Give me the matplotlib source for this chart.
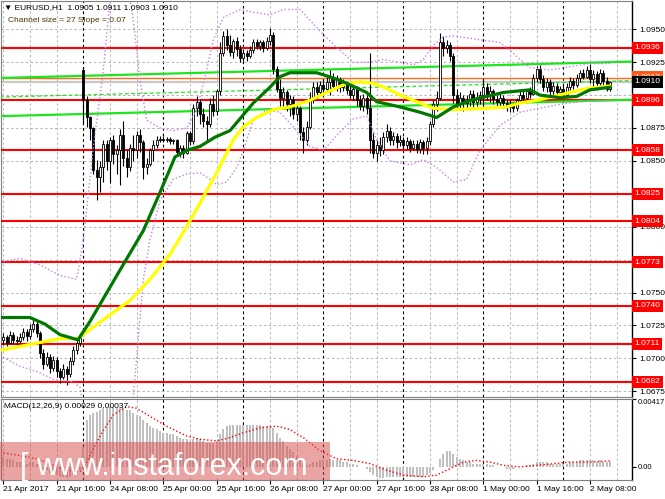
import numpy as np
import matplotlib.pyplot as plt
from matplotlib.patches import Rectangle
from matplotlib.transforms import blended_transform_factory

plt.rcParams['font.family'] = ['Liberation Sans', 'DejaVu Sans']

# EURUSD H1 candles, bar 0 = 21 Apr 2017 00:00
opens = [
    1.0714, 1.0716, 1.0712, 1.0718, 1.0714, 1.0713, 1.0716, 1.0720, 1.0717, 1.0722, 1.0726, 1.0719,
    1.0704, 1.0696, 1.0701, 1.0693, 1.0699, 1.0690, 1.0686, 1.0692, 1.0688, 1.0698, 1.0706, 1.0712,
    1.0919, 1.0896, 1.0883, 1.0875, 1.0843, 1.0838, 1.0845, 1.0863, 1.0850, 1.0866, 1.0855, 1.0858,
    1.0870, 1.0852, 1.0845, 1.0860, 1.0858, 1.0870, 1.0864, 1.0845, 1.0848, 1.0858, 1.0862, 1.0866,
    1.0867, 1.0866, 1.0867, 1.0865, 1.0866, 1.0857, 1.0860, 1.0856, 1.0871, 1.0865, 1.0890, 1.0895,
    1.0886, 1.0880, 1.0878, 1.0893, 1.0888, 1.0903, 1.0932, 1.0945, 1.0938, 1.0933, 1.0941, 1.0935,
    1.0928, 1.0932, 1.0930, 1.0934, 1.0940, 1.0937, 1.0940, 1.0936, 1.0941, 1.0946, 1.0920, 1.0905,
    1.0898, 1.0902, 1.0893, 1.0897, 1.0886, 1.0890, 1.0872, 1.0866, 1.0876, 1.0898, 1.0906, 1.0902,
    1.0908, 1.0905, 1.0910, 1.0914, 1.0907, 1.0912, 1.0906, 1.0909, 1.0904, 1.0900, 1.0905, 1.0896,
    1.0892, 1.0898, 1.0890, 1.0866, 1.0856, 1.0862, 1.0858, 1.0868, 1.0873, 1.0866, 1.0869, 1.0864,
    1.0866, 1.0862, 1.0865, 1.0860, 1.0863, 1.0859, 1.0864, 1.0860, 1.0865, 1.0878, 1.0893, 1.0898,
    1.0940, 1.0936, 1.0938, 1.0930, 1.0900, 1.0893, 1.0898, 1.0894, 1.0897, 1.0901, 1.0895, 1.0898,
    1.0900, 1.0906, 1.0900, 1.0903, 1.0897, 1.0895, 1.0898, 1.0894, 1.0891, 1.0893, 1.0890, 1.0896,
    1.0900, 1.0898, 1.0903, 1.0901, 1.0913, 1.0920, 1.0912, 1.0906, 1.0910, 1.0903, 1.0907, 1.0902,
    1.0905, 1.0900, 1.0906, 1.0911, 1.0908, 1.0913, 1.0917, 1.0914, 1.0919, 1.0912, 1.0916, 1.0909,
    1.0917, 1.0911, 1.0905,
]
highs = [
    1.0719, 1.0718, 1.0721, 1.0720, 1.0717, 1.0719, 1.0723, 1.0722, 1.0726, 1.0731, 1.0729, 1.0721,
    1.0707, 1.0705, 1.0703, 1.0702, 1.0701, 1.0693, 1.0696, 1.0694, 1.0701, 1.0709, 1.0715, 1.0719,
    1.0921, 1.0899, 1.0884, 1.0876, 1.0851, 1.0850, 1.0866, 1.0866, 1.0868, 1.0870, 1.0862, 1.0874,
    1.0880, 1.0858, 1.0863, 1.0870, 1.0873, 1.0874, 1.0866, 1.0852, 1.0860, 1.0866, 1.0869, 1.0869,
    1.0869, 1.0868, 1.0868, 1.0867, 1.0867, 1.0862, 1.0862, 1.0873, 1.0873, 1.0893, 1.0899, 1.0897,
    1.0890, 1.0884, 1.0898, 1.0900, 1.0905, 1.0940, 1.0949, 1.0950, 1.0946, 1.0943, 1.0944, 1.0938,
    1.0935, 1.0934, 1.0937, 1.0943, 1.0943, 1.0942, 1.0942, 1.0944, 1.0951, 1.0948, 1.0922, 1.0912,
    1.0906, 1.0904, 1.0900, 1.0899, 1.0895, 1.0892, 1.0876, 1.0880, 1.0902, 1.0910, 1.0910, 1.0911,
    1.0912, 1.0914, 1.0919, 1.0917, 1.0915, 1.0914, 1.0912, 1.0911, 1.0908, 1.0908, 1.0907, 1.0900,
    1.0901, 1.0900, 1.0932, 1.0872, 1.0866, 1.0868, 1.0872, 1.0878, 1.0876, 1.0872, 1.0871, 1.0870,
    1.0868, 1.0868, 1.0867, 1.0866, 1.0866, 1.0867, 1.0866, 1.0868, 1.0880, 1.0896, 1.0903, 1.0947,
    1.0945, 1.0942, 1.0940, 1.0932, 1.0905, 1.0902, 1.0900, 1.0900, 1.0904, 1.0904, 1.0902, 1.0903,
    1.0913, 1.0909, 1.0907, 1.0905, 1.0900, 1.0901, 1.0900, 1.0896, 1.0896, 1.0895, 1.0898, 1.0903,
    1.0903, 1.0905, 1.0906, 1.0916, 1.0922, 1.0923, 1.0915, 1.0913, 1.0912, 1.0910, 1.0909, 1.0907,
    1.0908, 1.0909, 1.0914, 1.0913, 1.0916, 1.0919, 1.0920, 1.0922, 1.0924, 1.0919, 1.0918, 1.0920,
    1.0919, 1.0914, 1.0911,
]
lows = [
    1.0710, 1.0709, 1.0711, 1.0711, 1.0710, 1.0712, 1.0714, 1.0713, 1.0715, 1.0720, 1.0716, 1.0700,
    1.0692, 1.0694, 1.0689, 1.0690, 1.0686, 1.0681, 1.0684, 1.0680, 1.0686, 1.0695, 1.0703, 1.0709,
    1.0879, 1.0876, 1.0866, 1.0840, 1.0820, 1.0826, 1.0834, 1.0843, 1.0833, 1.0848, 1.0840, 1.0832,
    1.0846, 1.0838, 1.0842, 1.0850, 1.0852, 1.0857, 1.0836, 1.0840, 1.0846, 1.0850, 1.0860, 1.0864,
    1.0864, 1.0864, 1.0863, 1.0863, 1.0854, 1.0853, 1.0852, 1.0855, 1.0862, 1.0863, 1.0884, 1.0878,
    1.0876, 1.0866, 1.0876, 1.0884, 1.0885, 1.0900, 1.0930, 1.0934, 1.0930, 1.0928, 1.0930, 1.0925,
    1.0926, 1.0926, 1.0928, 1.0932, 1.0935, 1.0934, 1.0933, 1.0934, 1.0938, 1.0916, 1.0902, 1.0892,
    1.0890, 1.0888, 1.0884, 1.0882, 1.0880, 1.0866, 1.0856, 1.0862, 1.0874, 1.0894, 1.0898, 1.0899,
    1.0900, 1.0902, 1.0900, 1.0904, 1.0903, 1.0902, 1.0903, 1.0901, 1.0897, 1.0896, 1.0892, 1.0889,
    1.0888, 1.0886, 1.0856, 1.0852, 1.0850, 1.0854, 1.0855, 1.0864, 1.0862, 1.0862, 1.0860, 1.0861,
    1.0859, 1.0859, 1.0857, 1.0858, 1.0856, 1.0856, 1.0855, 1.0855, 1.0862, 1.0876, 1.0888, 1.0896,
    1.0930, 1.0932, 1.0926, 1.0894, 1.0889, 1.0889, 1.0888, 1.0890, 1.0892, 1.0891, 1.0892, 1.0893,
    1.0891, 1.0896, 1.0895, 1.0893, 1.0891, 1.0892, 1.0890, 1.0888, 1.0887, 1.0887, 1.0888, 1.0894,
    1.0895, 1.0896, 1.0898, 1.0900, 1.0910, 1.0909, 1.0903, 1.0902, 1.0900, 1.0899, 1.0900, 1.0899,
    1.0898, 1.0899, 1.0904, 1.0905, 1.0906, 1.0910, 1.0912, 1.0913, 1.0909, 1.0905, 1.0904, 1.0907,
    1.0908, 1.0903, 1.0903,
]
closes = [
    1.0716, 1.0712, 1.0718, 1.0714, 1.0713, 1.0716, 1.0720, 1.0717, 1.0722, 1.0726, 1.0719, 1.0704,
    1.0696, 1.0701, 1.0693, 1.0699, 1.0690, 1.0686, 1.0692, 1.0688, 1.0698, 1.0706, 1.0712, 1.0716,
    1.0896, 1.0883, 1.0875, 1.0843, 1.0838, 1.0845, 1.0863, 1.0850, 1.0866, 1.0855, 1.0858, 1.0870,
    1.0852, 1.0845, 1.0860, 1.0858, 1.0870, 1.0864, 1.0845, 1.0848, 1.0858, 1.0862, 1.0866, 1.0867,
    1.0866, 1.0867, 1.0865, 1.0866, 1.0857, 1.0860, 1.0856, 1.0871, 1.0865, 1.0890, 1.0895, 1.0886,
    1.0880, 1.0878, 1.0893, 1.0888, 1.0903, 1.0932, 1.0945, 1.0938, 1.0933, 1.0941, 1.0935, 1.0928,
    1.0932, 1.0930, 1.0934, 1.0940, 1.0937, 1.0940, 1.0936, 1.0941, 1.0946, 1.0920, 1.0905, 1.0898,
    1.0902, 1.0893, 1.0897, 1.0886, 1.0890, 1.0872, 1.0866, 1.0876, 1.0898, 1.0906, 1.0902, 1.0908,
    1.0905, 1.0910, 1.0914, 1.0907, 1.0912, 1.0906, 1.0909, 1.0904, 1.0900, 1.0905, 1.0896, 1.0892,
    1.0898, 1.0890, 1.0866, 1.0856, 1.0862, 1.0858, 1.0868, 1.0873, 1.0866, 1.0869, 1.0864, 1.0866,
    1.0862, 1.0865, 1.0860, 1.0863, 1.0859, 1.0864, 1.0860, 1.0865, 1.0878, 1.0893, 1.0898, 1.0940,
    1.0936, 1.0938, 1.0930, 1.0900, 1.0893, 1.0898, 1.0894, 1.0897, 1.0901, 1.0895, 1.0898, 1.0900,
    1.0906, 1.0900, 1.0903, 1.0897, 1.0895, 1.0898, 1.0894, 1.0891, 1.0893, 1.0890, 1.0896, 1.0900,
    1.0898, 1.0903, 1.0901, 1.0913, 1.0920, 1.0912, 1.0906, 1.0910, 1.0903, 1.0907, 1.0902, 1.0905,
    1.0900, 1.0906, 1.0911, 1.0908, 1.0913, 1.0917, 1.0914, 1.0919, 1.0912, 1.0916, 1.0909, 1.0917,
    1.0911, 1.0905, 1.0910,
]

# moving averages (bar, price)
ma_green_bars = [-1, 8, 12.5, 17, 22.4, 26, 29, 35, 42, 47, 51.5, 55, 59, 63.5, 68, 75, 80, 83, 86,
                 94, 99, 103, 109, 112, 119, 125, 130, 135, 140, 150, 158, 161, 167, 172, 176, 182]
ma_green = [1.0731, 1.0731, 1.0726, 1.0718, 1.0714, 1.0728, 1.0741, 1.0767, 1.0797, 1.0826, 1.0853,
            1.0858, 1.0861, 1.0868, 1.0873, 1.0894, 1.0906, 1.0914, 1.0917, 1.0917, 1.0913, 1.0909,
            1.0902, 1.0895, 1.0891, 1.0887, 1.0883, 1.0891, 1.0896, 1.0902, 1.0904, 1.0900, 1.0898,
            1.0899, 1.0904, 1.0906]
ma_yellow_bars = [-1, 5, 11, 17, 22.4, 26, 32, 38, 44, 50, 55, 59, 64, 69, 72, 76, 81, 86, 92, 97,
                  103, 107, 111, 115, 119, 124, 129, 135, 145, 151, 155, 160, 165, 170, 175, 182]
ma_yellow = [1.0706, 1.0709, 1.0712, 1.0715, 1.0715, 1.0722, 1.0733, 1.0744, 1.0760, 1.0779, 1.0800,
             1.0818, 1.0841, 1.0866, 1.0876, 1.0883, 1.0889, 1.0891, 1.0896, 1.0902, 1.0909, 1.0910,
             1.0909, 1.0905, 1.0900, 1.0895, 1.0890, 1.0889, 1.0890, 1.0891, 1.0894, 1.0896, 1.0899,
             1.0902, 1.0905, 1.0907]

# Bollinger bands
bb_up_bars = [-1, 5, 11, 17, 22, 24, 27, 30, 32, 34, 37, 39, 41, 43, 47, 51, 55, 58, 61, 63, 66, 71,
              75, 80, 84, 89, 92, 96, 101, 105, 110, 114, 119, 123, 126, 129, 132, 135, 143, 149,
              152, 155, 158, 164, 171, 176, 182]
bb_up = [1.0773, 1.0776, 1.0771, 1.0763, 1.0760, 1.0790, 1.0860, 1.0919, 1.0972, 1.1003, 1.0990,
         1.0957, 1.0912, 1.0881, 1.0875, 1.0873, 1.0875, 1.0889, 1.0919, 1.0942, 1.0959, 1.0965,
         1.0963, 1.0961, 1.0965, 1.0965, 1.0957, 1.0946, 1.0934, 1.0925, 1.0925, 1.0927, 1.0925,
         1.0923, 1.0927, 1.0938, 1.0944, 1.0945, 1.0942, 1.0940, 1.0934, 1.0927, 1.0921, 1.0919,
         1.0922, 1.0924, 1.0924]
bb_low_bars = [-1, 5, 10, 15, 21, 23, 24, 26, 30, 34, 37, 39, 40, 42, 44, 47, 51, 55, 59, 62, 64, 67,
               70, 72, 75, 79, 83, 88, 92, 96, 101, 105, 109, 112, 116, 122, 126, 130, 135, 139,
               143, 149, 155, 161, 167, 173, 182]
bb_low = [1.0702, 1.0694, 1.0690, 1.0684, 1.0682, 1.0678, 1.0660, 1.0623, 1.0600, 1.0610, 1.0640,
          1.0672, 1.0700, 1.0760, 1.0790, 1.0820, 1.0836, 1.0840, 1.0841, 1.0836, 1.0832, 1.0834,
          1.0845, 1.0858, 1.0881, 1.0889, 1.0887, 1.0873, 1.0861, 1.0858, 1.0872, 1.0882, 1.0884,
          1.0866, 1.0850, 1.0847, 1.0851, 1.0845, 1.0834, 1.0836, 1.0858, 1.0877, 1.0887, 1.0890,
          1.0893, 1.0895, 1.0896]

# equidistant channel (bar, price)
channel_bars = [-1, 189]
channel_upper = [1.0913, 1.09255]
channel_mid = [1.08985, 1.0911]
channel_lower = [1.0884, 1.08965]

levels = [1.0936, 1.0896, 1.0858, 1.0825, 1.0804, 1.0773, 1.0740, 1.0711, 1.0682]
level_orange = 1.0913
bid = 1.0910
price_ticks = [1.0675, 1.0700, 1.0725, 1.0750, 1.0775, 1.0800, 1.0825, 1.0850, 1.0875, 1.0900,
               1.0925, 1.0950]
# these tick labels sit under a level label in the reference, so only the tick shows
hidden_tick_labels = [1.0775, 1.0825, 1.0900]

time_ticks = [0, 16, 32, 48, 64, 80, 96, 112, 128, 144, 160, 176]
time_labels = ['21 Apr 2017', '21 Apr 16:00', '24 Apr 08:00', '25 Apr 00:00', '25 Apr 16:00',
               '26 Apr 08:00', '27 Apr 00:00', '27 Apr 16:00', '28 Apr 08:00', '1 May 00:00',
               '1 May 16:00', '2 May 08:00']

macd_main = [
    0.0006, 0.0005, 0.0005, 0.0004, 0.0003, 0.0003, 0.0003, 0.0002, 0.0003, 0.0003, 0.0002, 0.0000,
    -0.0002, -0.0002, -0.0004, -0.0004, -0.0005, -0.0006, -0.0006, -0.0007, -0.0006, -0.0005, -0.0003, -0.0002,
    0.0012, 0.0029, 0.0032, 0.0033, 0.0034, 0.0035, 0.0036, 0.0036, 0.0037, 0.0037, 0.0036, 0.0036,
    0.0036, 0.0035, 0.0035, 0.0033, 0.0032, 0.0031, 0.0029, 0.0027, 0.0025, 0.0024, 0.0023, 0.0022,
    0.0021, 0.0021, 0.0020, 0.0020, 0.0019, 0.0018, 0.0017, 0.0017, 0.0016, 0.0017, 0.0018, 0.0017,
    0.0016, 0.0015, 0.0015, 0.0015, 0.0016, 0.0020, 0.0023, 0.0025, 0.0026, 0.0026, 0.0026, 0.0026,
    0.0026, 0.0026, 0.0026, 0.0026, 0.0026, 0.0026, 0.0025, 0.0025, 0.0026, 0.0024, 0.0021, 0.0018,
    0.0016, 0.0013, 0.0011, 0.0009, 0.0007, 0.0004, 0.0002, 0.0001, 0.0002, 0.0003, 0.0003, 0.0004,
    0.0004, 0.0004, 0.0005, 0.0004, 0.0004, 0.0004, 0.0003, 0.0003, 0.0002, 0.0002, 0.0001, 0.0000,
    0.0000, -0.0001, -0.0003, -0.0005, -0.0006, -0.0007, -0.0007, -0.0006, -0.0006, -0.0006, -0.0006, -0.0006,
    -0.0006, -0.0006, -0.0006, -0.0006, -0.0006, -0.0006, -0.0006, -0.0005, -0.0004, -0.0002, 0.0000, 0.0005,
    0.0008, 0.0010, 0.0010, 0.0008, 0.0006, 0.0005, 0.0004, 0.0003, 0.0003, 0.0002, 0.0002, 0.0002,
    0.0002, 0.0002, 0.0001, 0.0001, 0.0000, 0.0000, 0.0000, -0.0001, -0.0001, -0.0001, 0.0000, 0.0000,
    0.0000, 0.0001, 0.0001, 0.0002, 0.0003, 0.0003, 0.0003, 0.0003, 0.0002, 0.0002, 0.0002, 0.0002,
    0.0002, 0.0002, 0.0003, 0.0003, 0.0003, 0.0004, 0.0004, 0.0004, 0.0004, 0.0004, 0.0003, 0.0004,
    0.0003, 0.0003, 0.0003,
]
signal_bars = [-1, 5, 10, 15, 19, 23, 25, 29, 33, 37, 40, 44, 49, 55, 59, 64, 68, 72, 77, 82, 86, 90,
               95, 100, 105, 110, 115, 120, 126, 130, 134, 138, 142, 146, 150, 155, 160, 165, 170,
               176, 182]
signal = [0.0009, 0.0007, 0.0005, 0.0001, -0.0002, -0.0003, 0.0003, 0.0019, 0.0032, 0.0037, 0.0036,
          0.0031, 0.0025, 0.0019, 0.0017, 0.0016, 0.0018, 0.0021, 0.0024, 0.0025, 0.0023, 0.0018,
          0.0010, 0.0005, 0.0004, 0.0002, -0.0002, -0.0005, -0.0006, -0.0005, -0.0001, 0.0003,
          0.0004, 0.0003, 0.0001, 0.0000, 0.0001, 0.0002, 0.0003, 0.0003, 0.00037]
macd_top = 0.00417

W, H = 665, 499


def px_box(x0, y0, x1, y1):
    return [x0 / W, 1 - y1 / H, (x1 - x0) / W, (y1 - y0) / H]


fig = plt.figure(figsize=(W / 100, H / 100), dpi=100)
ax = fig.add_axes(px_box(1, 1, 632, 397))
axm = fig.add_axes(px_box(1, 399, 632, 480))

xlim = (-0.69, 188.6)
grid_dash = (0, (2.5, 2.5))
for a in (ax, axm):
    a.set_xlim(*xlim)
    for b in range(0, 189, 8):
        if b % 24 == 0 and b > 0:
            a.axvline(b, color='black', lw=0.8, ls=grid_dash, zorder=1)
        else:
            a.axvline(b, color='#b4b4b4', lw=0.7, ls=grid_dash, zorder=1)
    for s in ('left', 'top', 'bottom'):
        a.spines[s].set_color('#808080')
        a.spines[s].set_linewidth(0.8)
    a.spines['right'].set_color('black')
    a.spines['right'].set_linewidth(1)

# ---- main price window
ax.set_ylim(1.06706, 1.09715)
for p in price_ticks:
    ax.axhline(p, color='#b4b4b4', lw=0.7, ls=grid_dash, zorder=1)

ax.axhline(bid, color='#c8c8c8', lw=1.6, zorder=2)
ax.axhline(level_orange, color='#ff6a1a', lw=1.0, zorder=3)
for lv in levels:
    ax.axhline(lv, color='#ff0000', lw=1.5, zorder=3)

ax.plot(channel_bars, channel_upper, color='#1ee61e', lw=1.6, zorder=3)
ax.plot(channel_bars, channel_lower, color='#1ee61e', lw=1.6, zorder=3)
ax.plot(channel_bars, channel_mid, color='#1ee61e', lw=0.9, ls=(0, (3, 2)), zorder=3)

o = np.array(opens)
c = np.array(closes)
idx = np.arange(len(c))
up = c >= o
body_lo = np.minimum(o, c)
body_h = np.maximum(np.abs(c - o), 0.00002)
ax.vlines(idx, lows, highs, color='black', lw=0.8, zorder=4)
ax.bar(idx, body_h, bottom=body_lo, width=0.62, color=np.where(up, 'white', 'black'),
       edgecolor='black', linewidth=0.6, zorder=5)

bb_color = '#c87ee8'
ax.plot(bb_up_bars, bb_up, color=bb_color, lw=1.0, ls=(0, (1, 1.6)), zorder=6)
ax.plot(bb_low_bars, bb_low, color=bb_color, lw=1.0, ls=(0, (1, 1.6)), zorder=6)
ax.plot(ma_yellow_bars, ma_yellow, color='#ffff00', lw=2.3, zorder=6, solid_capstyle='round')
ax.plot(ma_green_bars, ma_green, color='#007800', lw=2.3, zorder=7, solid_capstyle='round')

ax.yaxis.tick_right()
ax.set_yticks(price_ticks)
ax.set_yticklabels(['' if p in hidden_tick_labels else f'{p:.4f}' for p in price_ticks])
ax.tick_params(axis='y', labelsize=6, length=3, pad=2, width=0.8)
ax.tick_params(axis='x', bottom=False, labelbottom=False)

trans = blended_transform_factory(ax.transAxes, ax.transData)
for lv in levels:
    ax.text(1.004, lv, f'{lv:.4f}', transform=trans, ha='left', va='center', fontsize=6,
            color='white', clip_on=False, zorder=10,
            bbox=dict(boxstyle='square,pad=0.3', fc='#ff0000', ec='none'))
# orange level label peeks out above the black bid label
ax.text(1.004, level_orange + 0.00005, f'{level_orange:.4f}', transform=trans, ha='left',
        va='center', fontsize=6, color='white', clip_on=False, zorder=10,
        bbox=dict(boxstyle='square,pad=0.3', fc='#ff5a1a', ec='none'))
ax.text(1.004, bid, f'{bid:.4f}', transform=trans, ha='left', va='center', fontsize=6,
        color='white', clip_on=False, zorder=11,
        bbox=dict(boxstyle='square,pad=0.3', fc='black', ec='none'))

fig.text(4 / W, 1 - 8 / H, '\u25bc EURUSD,H1  1.0905 1.0911 1.0903 1.0910', fontsize=6,
         va='center', ha='left', color='black')
fig.text(8 / W, 1 - 20 / H, 'Channel size = 27 Slope = 0.07', fontsize=6, va='center',
         ha='left', color='#4a3400')

# ---- MACD window
axm.set_ylim(-0.0008, macd_top)
axm.bar(idx, macd_main, width=0.6, color='#c0c0c0', zorder=3)
axm.plot(signal_bars, signal, color='#ff0000', lw=1.0, ls=(0, (1, 1.6)), zorder=4)
axm.set_yticks([macd_top, 0.0])
axm.set_yticklabels(['0.00417', '0.00'])
axm.yaxis.tick_right()
axm.tick_params(axis='y', labelsize=5.5, length=3, pad=1.5, width=0.8)
axm.get_yticklabels()[0].set_va('top')
axm.set_xticks(time_ticks)
axm.set_xticklabels(time_labels)
axm.tick_params(axis='x', labelsize=6, length=3, pad=1.5, width=0.8)
for lbl in axm.get_xticklabels():
    lbl.set_ha('left')

fig.text(4 / W, 1 - 407 / H, 'MACD(12,26,9) 0.00029 0.00037', fontsize=6, va='center',
         ha='left', color='black')

# watermark
fig.add_artist(Rectangle((0, 1 - 480 / H), 330 / W, 38 / H, transform=fig.transFigure,
                         facecolor='#d84a4a', alpha=0.5, edgecolor='none', zorder=20))
fig.text(20 / W, 1 - 475 / H, '[ www.instaforex.com', fontsize=22, color='white',
         ha='left', va='baseline', zorder=21)

fig.savefig('out.png', dpi=100)
